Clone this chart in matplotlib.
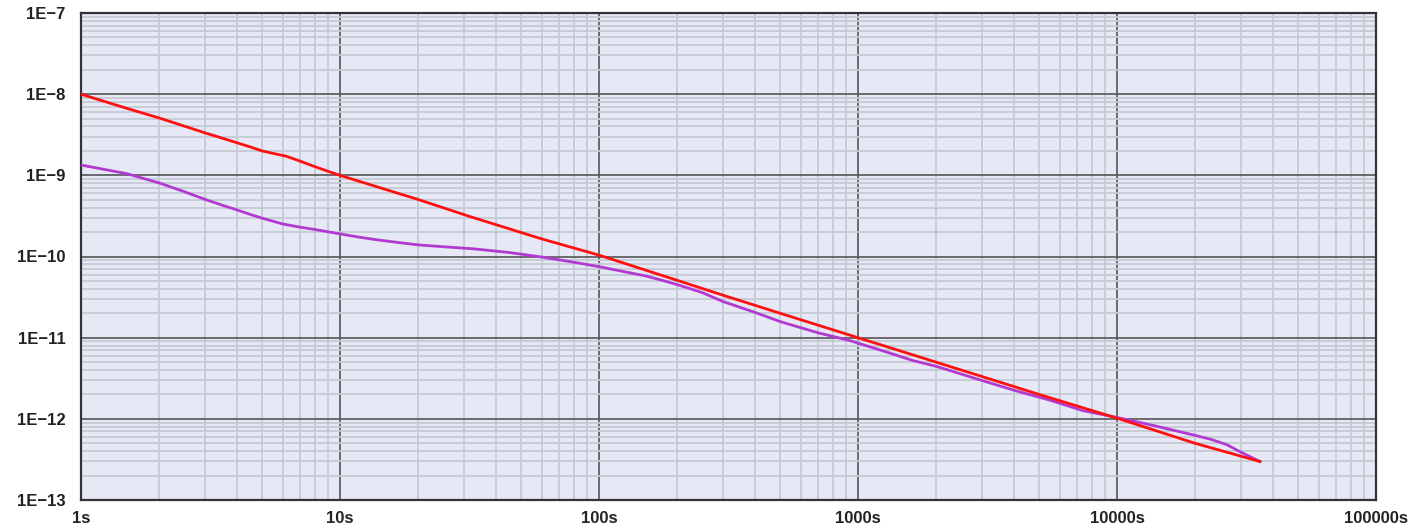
import numpy as np
import matplotlib.pyplot as plt
from matplotlib.ticker import LogLocator, NullFormatter

# ---- data (time in s, deviation) ----
red_t = [1, 1.5, 2, 2.5, 3, 3.5, 4, 4.5, 5, 5.5, 6.2, 7, 8, 9, 10, 15, 20,
         31.8, 60, 100, 200, 300, 500, 1000, 2000, 5000, 10000, 20000, 35650]
red_v = [1.0e-8, 6.7e-9, 5.1e-9, 4.05e-9, 3.35e-9, 2.88e-9, 2.52e-9, 2.24e-9,
         2.0e-9, 1.87e-9, 1.72e-9, 1.5e-9, 1.28e-9, 1.12e-9, 1.0e-9, 6.7e-10,
         5.05e-10, 3.1e-10, 1.65e-10, 1.04e-10, 5.1e-11, 3.35e-11, 2.0e-11,
         1.0e-11, 5.0e-12, 2.0e-12, 1.02e-12, 5.0e-13, 2.98e-13]

purple_t = [1, 1.5, 2.02, 2.5, 3, 3.5, 4, 4.5, 5, 6, 7, 8, 10, 12, 14, 17, 20,
            25, 33, 45, 60.8, 80, 100, 125, 150, 175, 202, 250, 301, 400, 500,
            700, 931, 1300, 1630, 2018, 2958, 3966, 5500, 7390, 10000, 14000,
            19640, 23000, 26600, 30000, 35650]
purple_v = [1.34e-9, 1.05e-9, 8.0e-10, 6.3e-10, 5.08e-10, 4.3e-10, 3.75e-10,
            3.3e-10, 2.97e-10, 2.52e-10, 2.3e-10, 2.15e-10, 1.90e-10, 1.72e-10,
            1.6e-10, 1.48e-10, 1.39e-10, 1.32e-10, 1.24e-10, 1.12e-10,
            9.8e-11, 8.5e-11, 7.5e-11, 6.5e-11, 5.8e-11, 5.1e-11, 4.47e-11,
            3.6e-11, 2.79e-11, 2.05e-11, 1.58e-11, 1.15e-11, 9.2e-12, 6.6e-12,
            5.22e-12, 4.41e-12, 3.02e-12, 2.27e-12, 1.7e-12, 1.26e-12,
            1.04e-12, 8.2e-13, 6.35e-13, 5.6e-13, 4.79e-13, 3.9e-13, 2.98e-13]

x_ticks = [1, 10, 100, 1000, 10000, 100000]
x_labels = ["1s", "10s", "100s", "1000s", "10000s", "100000s"]
y_ticks = [1e-13, 1e-12, 1e-11, 1e-10, 1e-9, 1e-8, 1e-7]
y_labels = ["1E\u221213", "1E\u221212", "1E\u221211", "1E\u221210",
            "1E\u22129", "1E\u22128", "1E\u22127"]

plt.rcParams['font.family'] = ['Liberation Sans', 'DejaVu Sans']

fig = plt.figure(figsize=(14.10, 5.28), dpi=100)
ax = fig.add_axes([81 / 1410, 28 / 528, 1295 / 1410, 487 / 528])
ax.set_facecolor('#e6e9f5')

ax.plot(red_t, red_v, color='#ff1010', linewidth=2.0, zorder=4)
ax.plot(purple_t, purple_v, color='#b23ad0', linewidth=2.0, zorder=3)

ax.set_xscale('log')
ax.set_yscale('log')
ax.set_xlim(1, 100000)
ax.set_ylim(1e-13, 1e-7)

ax.set_xticks(x_ticks)
ax.set_xticklabels(x_labels)
ax.set_yticks(y_ticks)
ax.set_yticklabels(y_labels)
ax.xaxis.set_minor_locator(LogLocator(base=10, subs=np.arange(2, 10), numticks=20))
ax.yaxis.set_minor_locator(LogLocator(base=10, subs=np.arange(2, 10), numticks=20))
ax.xaxis.set_minor_formatter(NullFormatter())
ax.yaxis.set_minor_formatter(NullFormatter())

ax.grid(True, which='minor', color='#c4cad4', linewidth=1.3, zorder=1)
ax.grid(True, which='major', color='#555555', linewidth=1.2, zorder=2)
ax.set_axisbelow(True)

ax.tick_params(which='both', length=0)
ax.tick_params(axis='x', pad=8, labelsize=12)
ax.tick_params(axis='y', pad=11, labelsize=12)
for lbl in ax.get_xticklabels() + ax.get_yticklabels():
    lbl.set_fontweight('bold')
    lbl.set_color('#222222')

for sp in ax.spines.values():
    sp.set_color('#333333')
    sp.set_linewidth(1.6)

fig.savefig('out.png', dpi=100)
